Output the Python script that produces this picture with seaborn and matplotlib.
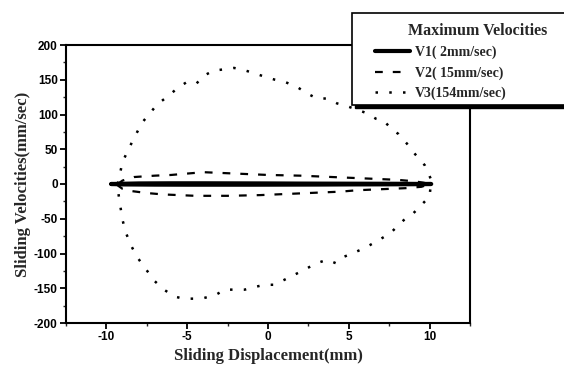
import matplotlib
matplotlib.use("Agg")
import matplotlib.pyplot as plt
import seaborn as sns
from matplotlib.ticker import MultipleLocator
from matplotlib.patches import Rectangle

sns.set_theme(style="ticks")
plt.rcParams['font.family'] = ['Liberation Serif', 'DejaVu Serif']
plt.rcParams['axes.unicode_minus'] = False

# ---- data ----
v1_x = [-9.7, -8.0, -6.0, -4.0, -2.0, 0.0, 2.0, 4.0, 6.0, 8.0, 10.1,
        9.0, 7.0, 5.0, 3.0, 1.0, -1.0, -3.0, -5.0, -7.0, -9.0, -9.7]
v1_y = [0.0, 0.8, 1.0, 1.0, 0.9, 0.8, 0.6, 0.5, 0.4, 0.3, 0.0,
        -0.3, -0.5, -0.6, -0.8, -0.9, -1.0, -1.0, -1.0, -0.9, -0.6, 0.0]

v2_x = [-9.3, -9.0, -8.3, -7.0, -6.0, -5.0, -4.0, -3.0, -2.0, -1.0, 0.0, 1.0, 2.0,
        3.0, 4.0, 5.0, 6.0, 7.0, 8.0, 9.0, 9.6, 10.0,
        9.5, 8.5, 7.5, 6.5, 5.5, 4.5, 3.5, 2.5, 1.5, 0.5, -0.5, -1.5, -2.5, -3.5,
        -4.5, -5.5, -6.5, -7.5, -8.5, -9.0, -9.3]
v2_y = [0.0, 5.0, 10.0, 12.0, 13.0, 15.0, 17.0, 16.0, 15.0, 14.0, 13.0, 12.5, 12.0,
        11.0, 10.0, 9.0, 8.0, 7.0, 6.0, 4.0, 2.0, 0.0,
        -4.0, -6.0, -7.0, -8.0, -9.0, -11.0, -12.0, -13.0, -14.0, -15.0, -16.0,
        -16.5, -17.0, -17.0, -17.0, -16.0, -15.0, -13.0, -10.0, -7.0, -2.0]

v3_x = [-9.3, -9.0, -8.4, -7.8, -6.84, -6.2, -5.6, -5.07, -4.44, -4.04, -3.38,
        -2.73, -2.1, -1.5, -0.8, -0.16, 0.44, 1.04, 1.84, 2.44, 3.04, 3.67, 4.27,
        4.89, 5.5, 6.1, 6.67, 7.16, 7.7, 8.07, 8.6, 9.1, 9.7, 10.1,
        10.0, 9.5, 9.0, 8.4, 8.0, 7.56, 6.9, 6.3, 5.8, 5.2, 4.67, 4.2, 3.67, 3.0,
        2.2, 1.6, 1.0, 0.33, -0.22, -0.78, -1.44, -2.0, -2.67, -3.27, -3.96,
        -4.56, -5.22, -5.78, -6.44, -7.0, -7.67, -8.1, -8.44, -8.78, -9.0, -9.2,
        -9.3]
v3_y = [0.0, 32.0, 61.0, 88.0, 115.0, 126.0, 138.0, 146.0, 144.0, 155.0, 163.0,
        165.0, 167.0, 164.0, 159.0, 154.0, 150.0, 147.0, 139.0, 130.0, 123.0,
        123.0, 116.0, 112.0, 107.0, 102.0, 94.0, 91.0, 78.0, 72.0, 58.0, 43.0,
        27.0, 6.0,
        -18.0, -30.0, -42.0, -52.0, -61.0, -71.0, -80.0, -88.0, -94.0, -100.0,
        -105.0, -114.0, -109.0, -114.0, -124.0, -131.0, -138.0, -145.0, -145.0,
        -148.0, -152.0, -152.0, -152.0, -160.0, -164.0, -165.0, -165.0, -162.0,
        -152.0, -140.0, -119.0, -105.0, -90.0, -71.0, -52.0, -23.0, -6.0]

labels = ["V1( 2mm/sec)", "V2( 15mm/sec)", "V3(154mm/sec)"]
legend_title = "Maximum Velocities"
x_label = "Sliding Displacement(mm)"
y_label = "Sliding Velocities(mm/sec)"

W, H = 564, 367
fig = plt.figure(figsize=(W / 100, H / 100), dpi=100)
ax = fig.add_axes([66 / W, 1 - 323 / H, 404 / W, 278 / H])

sns.lineplot(x=v3_x, y=v3_y, sort=False, estimator=None, ax=ax, color="black",
             linewidth=1.8, linestyle=(0, (1.0, 4.5)), label=labels[2])
sns.lineplot(x=v2_x, y=v2_y, sort=False, estimator=None, ax=ax, color="black",
             linewidth=1.6, linestyle=(0, (3.5, 4.5)), label=labels[1])
sns.lineplot(x=v1_x, y=v1_y, sort=False, estimator=None, ax=ax, color="black",
             linewidth=3.0, linestyle="-", label=labels[0])

ax.set_xlim(-12.5, 12.5)
ax.set_ylim(-200, 200)
ax.xaxis.set_major_locator(MultipleLocator(5))
ax.xaxis.set_minor_locator(MultipleLocator(2.5))
ax.yaxis.set_major_locator(MultipleLocator(50))
ax.yaxis.set_minor_locator(MultipleLocator(25))
ax.tick_params(which="major", direction="out", length=4, width=1.3, colors="black",
               top=False, right=False, pad=2)
ax.tick_params(which="minor", direction="out", length=2.5, width=1.0,
               top=False, right=False)
for lab in ax.get_xticklabels() + ax.get_yticklabels():
    lab.set_family(['Liberation Sans', 'DejaVu Sans'])
    lab.set_fontweight("bold")
    lab.set_fontsize(8.5)
for sp in ax.spines.values():
    sp.set_linewidth(1.5)
    sp.set_color("black")
    sp.set_visible(True)

ax.set_xlabel(x_label, fontsize=12, fontweight="bold", labelpad=3)
ax.set_ylabel(y_label, fontsize=12, fontweight="bold", labelpad=2)

# legend box with shadow (figure pixel coords)
bx0, by_top, bx1, by_bot = 352, 13, 572, 105
shadow = Rectangle(((bx0 + 3) / W, 1 - (by_bot + 3) / H), (bx1 - bx0) / W,
                   (by_bot - by_top) / H, transform=fig.transFigure,
                   facecolor="black", edgecolor="black", zorder=5)
frame = Rectangle((bx0 / W, 1 - by_bot / H), (bx1 - bx0) / W,
                  (by_bot - by_top) / H, transform=fig.transFigure,
                  facecolor="white", edgecolor="black", linewidth=1.2, zorder=6)
fig.patches.extend([shadow, frame])

fig.text(408 / W, 1 - 31 / H, legend_title, fontsize=11.5, fontweight="bold",
         ha="left", va="center", zorder=7)

ax.get_legend().remove()
handles, labs = ax.get_legend_handles_labels()
order = [labs.index(l) for l in labels]
leg = fig.legend([handles[i] for i in order], [labs[i] for i in order],
                 loc="upper left", bbox_to_anchor=(375 / W, 1 - 46 / H),
                 frameon=False, prop={"weight": "bold", "size": 10},
                 handlelength=2.5, handletextpad=0.4, labelspacing=0.5,
                 borderpad=0, borderaxespad=0)
leg.set_zorder(8)

fig.savefig("out.png", dpi=100)
